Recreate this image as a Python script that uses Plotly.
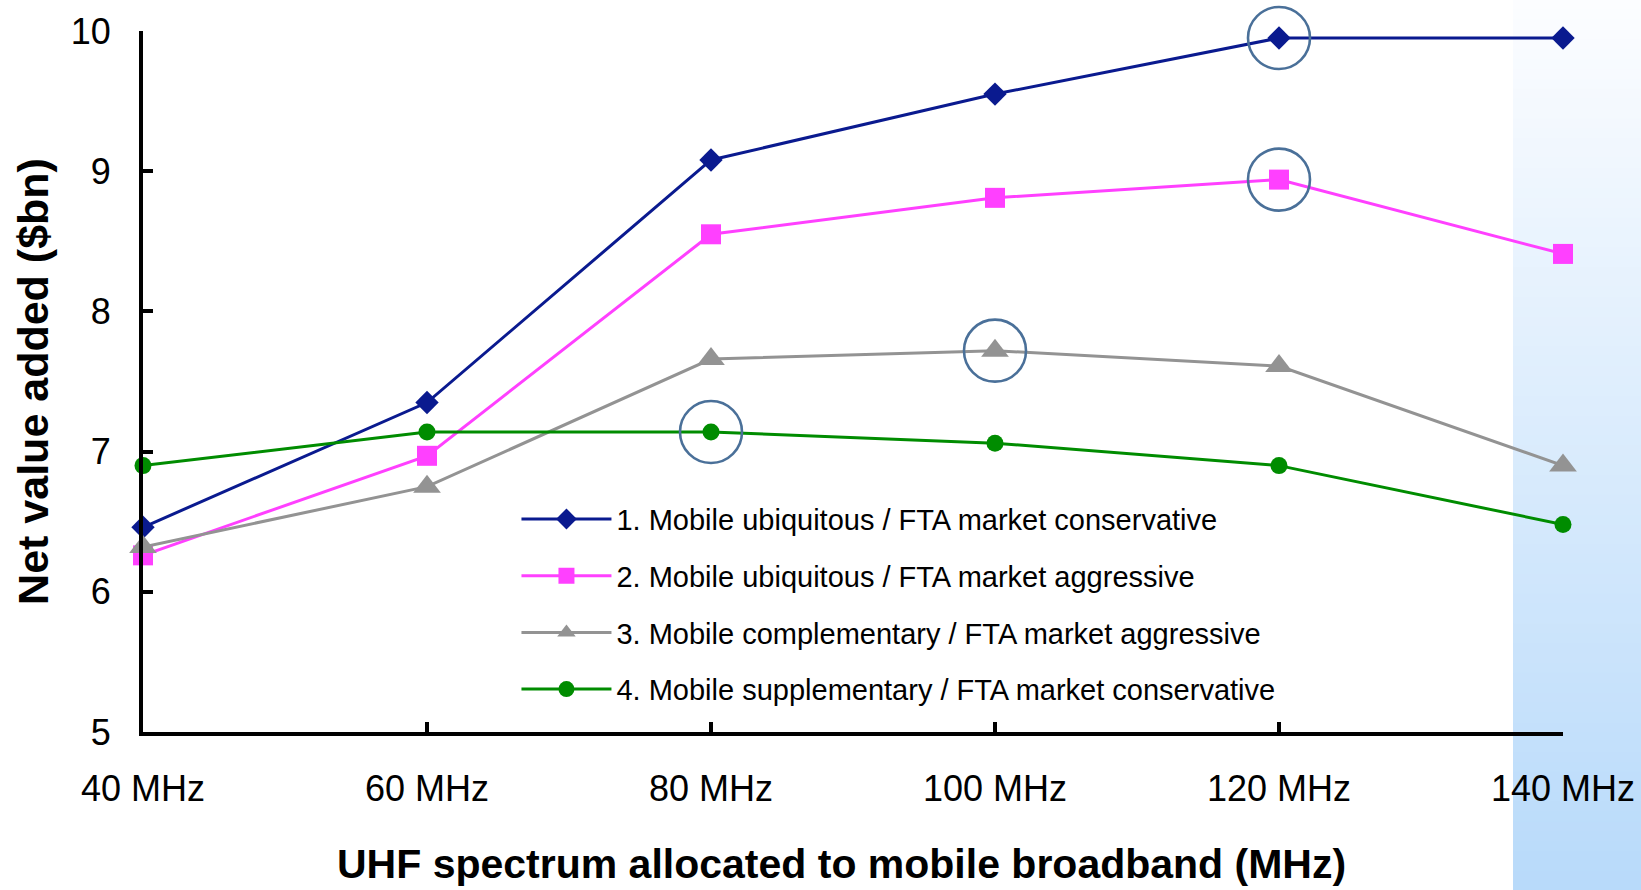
import plotly.graph_objects as go

# Spectrum allocated (MHz) and net value added ($bn) for each scenario
spectrum_mhz = [40, 60, 80, 100, 120, 140]
tick_labels = ["40 MHz", "60 MHz", "80 MHz", "100 MHz", "120 MHz", "140 MHz"]

names = [
    "1. Mobile ubiquitous / FTA market conservative",
    "2. Mobile ubiquitous / FTA market aggressive",
    "3. Mobile complementary / FTA market aggressive",
    "4. Mobile supplementary / FTA market conservative",
]
ubiquitous_conservative = [6.46, 7.35, 9.08, 9.55, 9.95, 9.95]
ubiquitous_aggressive = [6.26, 6.97, 8.55, 8.81, 8.94, 8.41]
complementary_aggressive = [6.32, 6.75, 7.66, 7.72, 7.61, 6.90]
supplementary_conservative = [6.90, 7.14, 7.14, 7.06, 6.90, 6.48]

# Index of the optimum point of each scenario (ringed on the chart)
optimum_index = [4, 4, 3, 2]

series = [ubiquitous_conservative, ubiquitous_aggressive,
          complementary_aggressive, supplementary_conservative]
colors = ["#0A1A8F", "#FF40FF", "#939393", "#008C00"]
symbols = ["diamond", "square", "triangle-up", "circle"]
sizes = [18, 20, 24, 17]

FONT = "Arial, Liberation Sans, sans-serif"

fig = go.Figure()

for i, (vals, name, col, sym, sz) in enumerate(zip(series, names, colors, symbols, sizes)):
    fig.add_trace(go.Scatter(
        x=spectrum_mhz, y=vals, name=name, mode="lines+markers",
        line=dict(color=col, width=3),
        marker=dict(symbol=sym, size=sz, color=col),
        cliponaxis=False, legendgroup=f"g{i}",
    ))

# Rings around the optimum of each scenario
ring_x = [spectrum_mhz[k] for k in optimum_index]
ring_y = [s[k] for s, k in zip(series, optimum_index)]
fig.add_trace(go.Scatter(
    x=ring_x, y=ring_y, mode="markers", showlegend=False, cliponaxis=False,
    marker=dict(symbol="circle-open", size=62, color="#4A7099",
                line=dict(width=2.6, color="#4A7099")),
))

# Light blue vertical gradient band on the right edge
shapes = []
n_strips = 90
y_top, y_bot = 1.045, -0.226
x0, x1 = 0.9648, 1.06
c_top = (252, 253, 255)
c_bot = (184, 218, 250)
step = (y_bot - y_top) / n_strips
for k in range(n_strips):
    t = k / (n_strips - 1)
    r = round(c_top[0] + (c_bot[0] - c_top[0]) * t)
    g = round(c_top[1] + (c_bot[1] - c_top[1]) * t)
    b = round(c_top[2] + (c_bot[2] - c_top[2]) * t)
    ya = y_top + step * k
    yb = y_top + step * (k + 1.6) if k < n_strips - 1 else y_bot
    shapes.append(dict(type="rect", xref="paper", yref="paper",
                       x0=x0, x1=x1, y0=ya, y1=yb, layer="below",
                       line=dict(width=0), fillcolor=f"rgb({r},{g},{b})"))

fig.update_layout(
    width=1641, height=890,
    margin=dict(l=143, r=78, t=31, b=158),
    paper_bgcolor="white", plot_bgcolor="rgba(0,0,0,0)",
    font=dict(family=FONT, color="black"),
    shapes=shapes,
    showlegend=True,
    legend=dict(
        x=0.263, y=0.340, xanchor="left", yanchor="top",
        bgcolor="rgba(0,0,0,0)", font=dict(size=29, family=FONT),
        itemwidth=90, tracegroupgap=16, traceorder="grouped",
    ),
    annotations=[dict(
        text="<b>UHF spectrum allocated to mobile broadband (MHz)</b>",
        xref="paper", yref="paper", x=0.492, y=-0.188,
        xanchor="center", yanchor="middle", showarrow=False,
        font=dict(size=41, family=FONT, color="black"),
    )],
    xaxis=dict(
        range=[40, 140], tickmode="array", tickvals=spectrum_mhz, ticktext=tick_labels,
        showgrid=False, zeroline=False, showline=True, linecolor="black", linewidth=4,
        ticks="inside", ticklen=10, tickwidth=4, tickcolor="black",
        tickfont=dict(size=36), ticklabelstandoff=22,
        automargin=False,
    ),
    yaxis=dict(
        range=[5, 10], tickvals=[5, 6, 7, 8, 9, 10],
        showgrid=False, zeroline=False, showline=True, linecolor="black", linewidth=4,
        ticks="inside", ticklen=10, tickwidth=4, tickcolor="black",
        tickfont=dict(size=36), ticklabelstandoff=21,
        title=dict(text="<b>Net value added ($bn)</b>", font=dict(size=43), standoff=10),
        automargin=False,
    ),
)

fig.write_html("out.html")
